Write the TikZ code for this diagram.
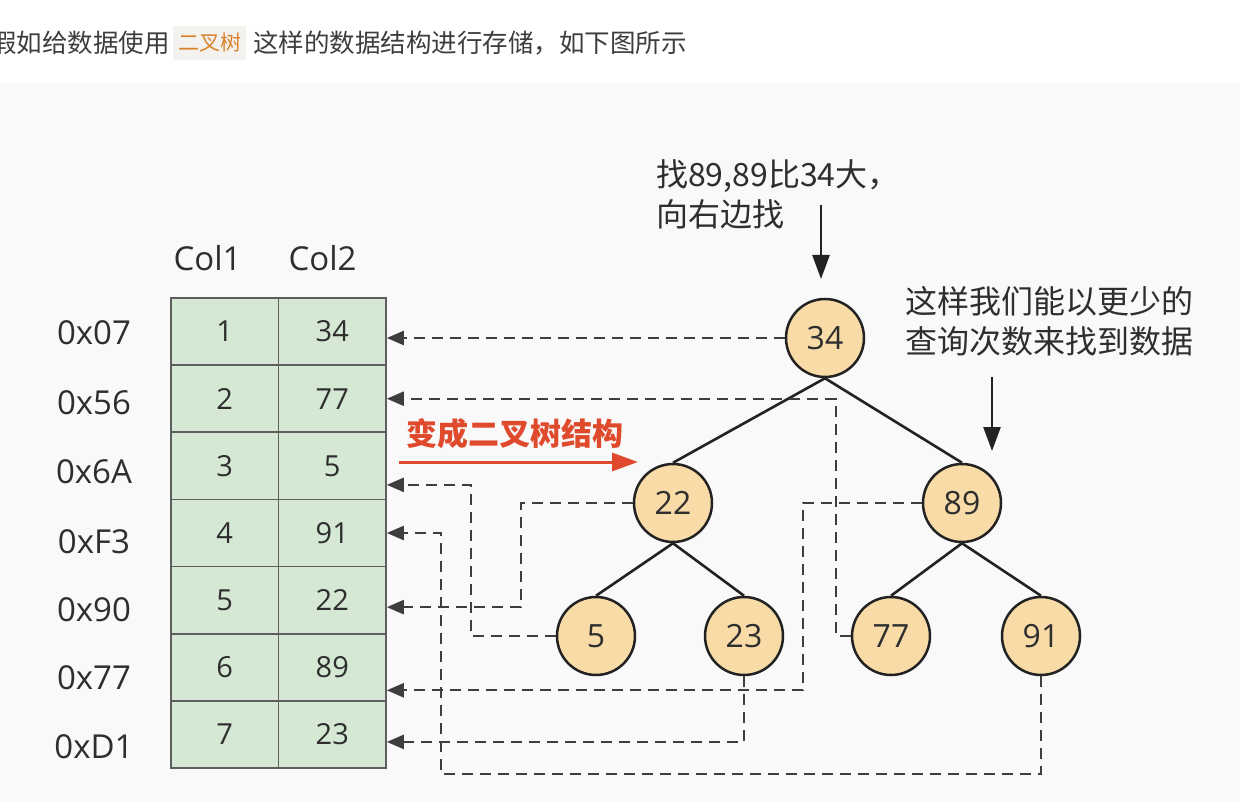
\documentclass[tikz,border=0pt]{standalone}
\usepackage{fontspec}
\setmainfont{Open Sans}
\newfontfamily\cjk{Noto Sans CJK SC}
\usetikzlibrary{arrows.meta}
\definecolor{bgpanel}{HTML}{F9F9F9}
\definecolor{cellfill}{HTML}{D5E8D4}
\definecolor{cellline}{HTML}{5E5E5E}
\definecolor{nodefill}{HTML}{F8DBA7}
\definecolor{ink}{HTML}{2E2E2E}
\definecolor{topink}{HTML}{3D3D3D}
\definecolor{dashc}{HTML}{3E3E3E}
\definecolor{redc}{HTML}{E04A2C}
\definecolor{codec}{HTML}{D9822B}
\definecolor{codebg}{HTML}{F4F2EF}
\definecolor{linec}{HTML}{222222}
\begin{document}
\begin{tikzpicture}[x=1pt,y=-1pt,
  cell/.style={draw=cellline, fill=cellfill, line width=1.6pt, minimum width=107.5pt,
    minimum height=67.143pt, inner sep=0pt, font=\fontsize{29}{34}\selectfont, text=ink},
  tnode/.style={circle, draw=linec, fill=nodefill, line width=2.5pt, minimum size=78pt,
    inner sep=0pt, font=\fontsize{32}{36}\selectfont, text=ink},
  ptr/.style={draw=dashc, line width=2.4pt, dash pattern=on 11pt off 7pt,
    -{Triangle[length=17pt,width=14pt]}},
  treeedge/.style={draw=linec, line width=2.6pt},
  lbl/.style={font=\fontsize{33}{38}\selectfont, text=ink, inner sep=0pt},
  note/.style={font=\cjk\fontsize{32}{40}\selectfont, text=ink, align=left, inner sep=0pt},
  bigarrow/.style={draw=linec, line width=2.6pt, -{Triangle[length=24pt,width=17pt]}},
  redarrow/.style={draw=redc, line width=3pt, -{Triangle[length=26pt,width=18pt]}},
  toptext/.style={font=\cjk\fontsize{25.5}{30}\selectfont, text=topink, inner sep=0pt},
  codetext/.style={font=\cjk\fontsize{21}{26}\selectfont, text=codec, fill=codebg,
    inner xsep=5pt, minimum height=34pt},
]
\useasboundingbox (0,0) rectangle (1240,802);
\fill[white] (0,0) rectangle (1240,83);
\fill[bgpanel] (0,83) rectangle (1240,802);

% top sentence
\node[toptext, anchor=west] (t1) at (-9,43) {假如给数据使用};
\node[codetext, anchor=west] (t2) at (173,43) {二叉树};
\node[toptext, anchor=west] (t3) at (253,43) {这样的数据结构进行存储，如下图所示};

% table headers
\node[lbl] (col1) at (207.5,258) {Col1};
\node[lbl] (col2) at (322.5,258) {Col2};

% table cells
\foreach \i/\a/\b in {1/1/34,2/2/77,3/3/5,4/4/91,5/5/22,6/6/89,7/7/23}{
  \node[cell] (a\i) at (224.75,{298+67.143*(\i-0.5)}) {\a};
  \node[cell] (b\i) at (332.25,{298+67.143*(\i-0.5)}) {\b};
}

% address labels
\foreach \i/\t/\y in {1/0x07/333,2/0x56/403,3/0x6A/472,4/0xF3/542,5/0x90/610,6/0x77/678,7/0xD1/747}{
  \node[lbl] (h\i) at (94,\y) {\t};
}

% tree nodes
\node[tnode] (n34) at (825,338) {34};
\node[tnode] (n22) at (673,503) {22};
\node[tnode] (n89) at (962,503) {89};
\node[tnode] (n5)  at (596,636) {5};
\node[tnode] (n23) at (744,636) {23};
\node[tnode] (n77) at (891,636) {77};
\node[tnode] (n91) at (1041,636) {91};

% tree edges
\draw[treeedge] (n34.south) -- (n22.north);
\draw[treeedge] (n34.south) -- (n89.north);
\draw[treeedge] (n22.south) -- (n5.north);
\draw[treeedge] (n22.south) -- (n23.north);
\draw[treeedge] (n89.south) -- (n77.north);
\draw[treeedge] (n89.south) -- (n91.north);

% pointers
\draw[ptr] (n34.west) -- (n34.west -| b1.east);
\draw[ptr] (n77.west) -- ++(-15,0) |- (b2.east);
\draw[ptr] (n5.west) -- ++(-85,0) |- ([yshift=-19pt]b3.east);
\draw[ptr] (n91.south) -- ++(0,98) -| ([xshift=54pt]b4.east) -- (b4.east);
\draw[ptr] (n22.west) -- ++(-112,0) |- ([yshift=-7pt]b5.east);
\draw[ptr] (n89.west) -- ++(-119,0) |- ([yshift=-23pt]b6.east);
\draw[ptr] (n23.south) |- ([yshift=-7.5pt]b7.east);

% red conversion arrow
\node[font=\cjk\bfseries\fontsize{31}{36}\selectfont, text=redc, inner sep=0pt] (conv) at (515,434) {变成二叉树结构};
\coordinate (r1) at (399,462);
\coordinate (r2) at (638,462);
\draw[redarrow] (r1) -- (r2);

% annotations
\node[note, anchor=west] (note1) at (656,194) {找89,89比34大，\\向右边找};
\coordinate (a1s) at (821,205);
\coordinate (a1e) at (821,279);
\draw[bigarrow] (a1s) -- (a1e);

\node[note, anchor=west] (note2) at (905,321) {这样我们能以更少的\\查询次数来找到数据};
\coordinate (a2s) at (992,377);
\coordinate (a2e) at (992,451);
\draw[bigarrow] (a2s) -- (a2e);
\end{tikzpicture}
\end{document}
